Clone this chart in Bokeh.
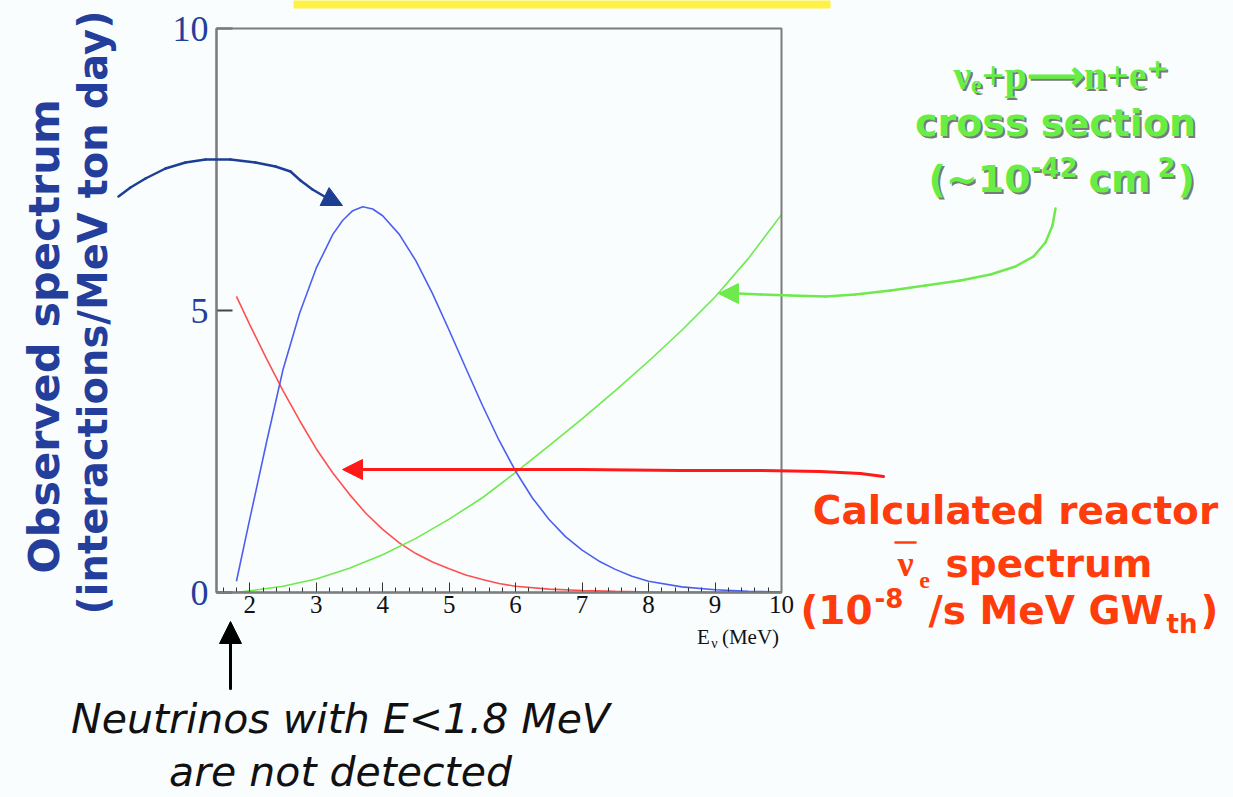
import math
from bokeh.plotting import figure
from bokeh.models import (Range1d, SingleIntervalTicker, FixedTicker, Label, Arrow,
                          NormalHead, BoxAnnotation, ColumnDataSource)
from bokeh.embed import file_html
from bokeh.resources import INLINE

# ---- data -------------------------------------------------------------
# observed spectrum (interactions / MeV ton day)
obs_energy = [1.8, 2.0, 2.25, 2.5, 2.75, 3.0, 3.25, 3.4, 3.55, 3.7, 3.85, 4.0, 4.25,
              4.5, 4.75, 5.0, 5.25, 5.5, 5.75, 6.0, 6.25, 6.5, 6.75, 7.0, 7.25, 7.5,
              7.75, 8.0, 8.5, 9.0, 9.5, 10.0]
obs_rate = [0.2, 1.3, 2.65, 3.95, 4.95, 5.75, 6.35, 6.6, 6.77, 6.84, 6.8, 6.68, 6.35,
            5.88, 5.3, 4.65, 3.98, 3.32, 2.7, 2.15, 1.68, 1.3, 0.99, 0.75, 0.56, 0.41,
            0.29, 0.2, 0.1, 0.05, 0.02, 0.01]

# calculated reactor anti-neutrino flux
flux_energy = [1.8, 2.0, 2.25, 2.5, 2.75, 3.0, 3.25, 3.5, 3.75, 4.0, 4.25, 4.5, 4.75,
               5.0, 5.25, 5.5, 5.75, 6.0, 6.5, 7.0, 7.5, 8.0, 9.0, 10.0]
flux = [5.25, 4.75, 4.15, 3.58, 3.05, 2.55, 2.12, 1.74, 1.4, 1.12, 0.88, 0.69, 0.54,
        0.42, 0.31, 0.23, 0.16, 0.11, 0.06, 0.035, 0.02, 0.01, 0.005, 0.002]

# inverse beta decay cross section
xsec_energy = [1.8, 2.0, 2.5, 3.0, 3.5, 4.0, 4.5, 5.0, 5.5, 6.0, 6.5, 7.0, 7.5,
               8.0, 8.5, 9.0, 9.5, 10.0]
xsec = [0.0, 0.03, 0.11, 0.24, 0.43, 0.67, 0.96, 1.3, 1.68, 2.13, 2.6, 3.08, 3.58,
        4.1, 4.65, 5.24, 5.92, 6.7]

x_bounds = (1.5, 10.0)
y_bounds = (0.0, 10.0)
y_ticks = [0, 5, 10]

# ---- geometry ---------------------------------------------------------
W, H = 1233, 797
FL, FR, FT, FB = 216, 781, 28, 592       # pixel box of the spectrum panel
X0, X1 = x_bounds
Y0, Y1 = y_bounds
BG = "#fafdfe"

BLUE_TXT = "#243e9c"
BLUE_LINE = "#4d5ff0"
RED_LINE = "#ff5050"
GREEN_LINE = "#6eea4c"
RED_TXT = "#ff3c0c"
GREEN_TXT = "#66ee44"
SHADOW = "#555555"


def dx(px):
    return X0 + (px - FL) * (X1 - X0) / (FR - FL)


def dy(py):
    return Y0 + (FB - py) * (Y1 - Y0) / (FB - FT)


# the frame spans the whole page so that captions and arrows can sit around the panel
p = figure(width=W, height=H, x_range=Range1d(dx(0), dx(W)), y_range=Range1d(dy(H), dy(0)),
           output_backend="svg", toolbar_location=None, min_border=0,
           background_fill_color=BG, border_fill_color=BG, outline_line_color=None)
p.grid.visible = False

# x axis along E = 1.5 .. 10 at y = 0
xa = p.xaxis[0]
xa.fixed_location = Y0
xa.bounds = x_bounds
xa.ticker = SingleIntervalTicker(interval=1, num_minor_ticks=5)
xa.axis_line_color = "#6a6a6a"
xa.axis_line_width = 2
xa.major_tick_in = 10
xa.major_tick_out = 0
xa.minor_tick_in = 5
xa.minor_tick_out = 0
xa.major_tick_line_color = "#333333"
xa.minor_tick_line_color = "#333333"
xa.major_label_text_font = "Liberation Serif"
xa.major_label_text_font_size = "25px"
xa.major_label_text_color = "#111111"
xa.major_label_standoff = 3

# y axis at E = 1.5
ya = p.yaxis[0]
ya.fixed_location = X0
ya.bounds = y_bounds
ya.ticker = FixedTicker(ticks=y_ticks, minor_ticks=[])
ya.axis_line_color = "#6a6a6a"
ya.axis_line_width = 2
ya.major_tick_in = 16
ya.major_tick_out = 0
ya.major_tick_line_color = "#444444"
ya.major_tick_line_width = 2
ya.major_label_text_font = "Liberation Serif"
ya.major_label_text_font_size = "36px"
ya.major_label_text_color = BLUE_TXT
ya.major_label_standoff = 8

# panel outline
p.add_layout(BoxAnnotation(left=X0, right=X1, bottom=Y0, top=Y1, fill_alpha=0,
                           line_color="#7c7c7c", line_alpha=1.0, line_width=2))

# curves
p.line(flux_energy, flux, line_color=RED_LINE, line_width=1.6)
p.line(xsec_energy, xsec, line_color=GREEN_LINE, line_width=1.6)
p.line(obs_energy, obs_rate, line_color=BLUE_LINE, line_width=1.6)


# ---- annotation helpers ------------------------------------------------
def path_arrow(pts, tip, color, width, head):
    xs = [dx(a) for a, _ in pts]
    ys = [dy(b) for _, b in pts]
    src = ColumnDataSource(dict(x0=xs[:-1], y0=ys[:-1], x1=xs[1:], y1=ys[1:]))
    p.add_layout(Arrow(end=None, source=src, x_start="x0", y_start="y0",
                       x_end="x1", y_end="y1", line_color=color,
                       line_width=width, line_cap="round"))
    if tip is not None:
        p.add_layout(Arrow(end=NormalHead(size=head, fill_color=color, line_color=color),
                           x_start=xs[-1], y_start=ys[-1], x_end=dx(tip[0]),
                           y_end=dy(tip[1]), line_color=color, line_width=width))


def label(px, py, text, color, size, font="DejaVu Sans", style="bold",
          align="center", angle=0, shadow=None):
    if shadow:
        p.add_layout(Label(x=dx(px + 2), y=dy(py + 2), text=text, text_color=shadow,
                           text_font=font, text_font_size=size, text_font_style=style,
                           text_align=align, text_baseline="middle", angle=angle,
                           text_alpha=0.8))
    p.add_layout(Label(x=dx(px), y=dy(py), text=text, text_color=color,
                       text_font=font, text_font_size=size, text_font_style=style,
                       text_align=align, text_baseline="middle", angle=angle))


# yellow heading strip at the top edge
p.add_layout(BoxAnnotation(left=dx(293), right=dx(830), top=dy(-20), bottom=dy(8),
                           fill_color="#fff245", fill_alpha=1.0, line_alpha=0))

# y axis title (two rotated lines)
label(43, 336, "Observed spectrum", BLUE_TXT, "43px", angle=math.pi / 2)
label(92, 312, "(interactions/MeV ton day)", BLUE_TXT, "40px", angle=math.pi / 2)

# x axis title
label(703, 636, "E", "#111111", "21px", font="Liberation Serif", style="normal")
label(714, 643, "\u03bd", "#111111", "14px", font="Liberation Serif", style="normal")
label(750, 636, "(MeV)", "#111111", "21px", font="Liberation Serif", style="normal")

# cross-section caption
label(1060, 75, "\u03bd\u2091+p\u27f6n+e\u207a", GREEN_TXT, "40px",
      font="Liberation Serif", shadow=SHADOW)
label(1055, 122, "cross section", GREEN_TXT, "38px", shadow=SHADOW)
label(928, 178, "(~10", GREEN_TXT, "38px", align="left", shadow=SHADOW)
label(1030, 166, "-42", GREEN_TXT, "26px", align="left", shadow=SHADOW)
label(1088, 178, "cm", GREEN_TXT, "38px", align="left", shadow=SHADOW)
label(1157, 166, "2", GREEN_TXT, "26px", align="left", shadow=SHADOW)
label(1177, 178, ")", GREEN_TXT, "38px", align="left", shadow=SHADOW)

# reactor spectrum caption
label(1015, 510, "Calculated reactor", RED_TXT, "39px")
label(905, 563, "\u03bd", RED_TXT, "36px", font="Liberation Serif")
path_arrow([(895, 542), (915, 542)], None, RED_TXT, 2.5, 0)
label(924, 580, "e", RED_TXT, "24px", font="Liberation Serif")
label(945, 563, "spectrum", RED_TXT, "39px", align="left")
label(800, 610, "(10", RED_TXT, "39px", align="left")
label(874, 597, "-8", RED_TXT, "26px", align="left")
label(928, 610, "/s MeV GW", RED_TXT, "39px", align="left")
label(1166, 623, "th", RED_TXT, "26px", align="left")
label(1200, 610, ")", RED_TXT, "39px", align="left")

# detection threshold note
label(340, 718, "Neutrinos with E<1.8 MeV", "#111111", "41px", style="italic")
label(340, 771, "are not detected", "#111111", "41px", style="italic")

# arrows
path_arrow([(118, 196), (130, 187), (145, 178), (165, 168), (185, 162), (205, 159),
            (230, 159), (255, 162), (275, 166), (290, 171), (300, 180), (312, 189),
            (324, 196)], (342, 205), "#1c3f94", 2.5, 20)
path_arrow([(883, 476), (860, 473), (820, 471), (760, 470), (680, 470), (580, 469),
            (480, 469), (380, 469), (362, 469)], (342, 469), "#ff1a1a", 3, 20)
path_arrow([(1055, 208), (1052, 225), (1045, 242), (1033, 256), (1015, 266),
            (990, 274), (960, 280), (925, 285), (890, 290), (855, 294), (825, 296),
            (790, 295), (760, 294), (738, 293)], (718, 293), GREEN_LINE, 2.5, 20)
path_arrow([(230, 688), (230, 645)], (230, 621), "#000000", 3, 22)

open("out.html", "w").write(file_html(p, INLINE))
